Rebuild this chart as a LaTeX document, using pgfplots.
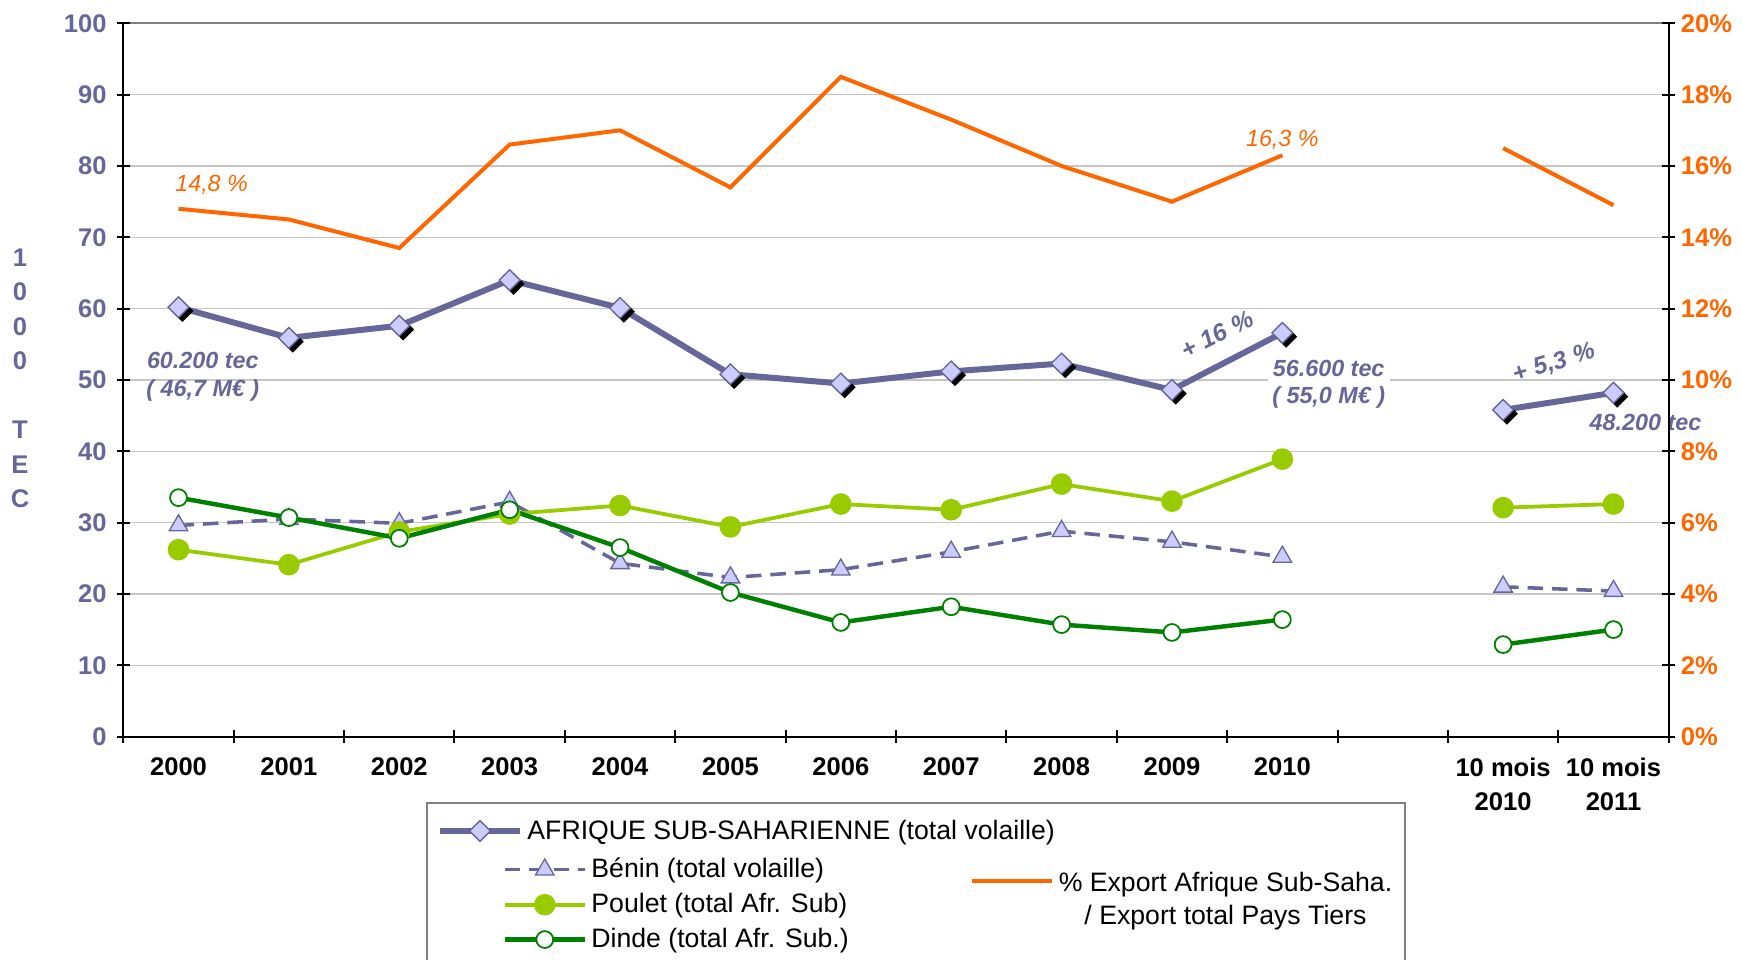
\documentclass[border=0pt]{standalone}
\usepackage{pgfplots}
\usepackage{pgfplotstable}
\pgfplotsset{compat=1.18}
\usepackage{fontspec}
\setmainfont{Liberation Sans}
\definecolor{slate}{HTML}{666699}
\definecolor{lav}{HTML}{CCCCFF}
\definecolor{lime}{HTML}{99CC00}
\definecolor{dgreen}{HTML}{008000}
\definecolor{orng}{HTML}{FF6600}

\pgfplotstableread{
x  afr  ben  pou  din  pct
0  60.2 29.6 26.2 33.5 14.8
1  55.9 30.5 24.1 30.7 14.5
2  57.6 29.9 28.7 27.8 13.7
3  64.0 32.9 31.2 31.8 16.6
4  60.1 24.3 32.4 26.5 17.0
5  50.8 22.3 29.4 20.2 15.4
6  49.5 23.4 32.6 16.0 18.5
7  51.2 25.9 31.8 18.2 17.3
8  52.3 28.8 35.4 15.7 16.0
9  48.6 27.3 33.0 14.6 15.0
10 56.6 25.2 38.9 16.4 16.3
11 nan  nan  nan  nan  nan
12 45.8 21.0 32.1 12.9 16.5
13 48.2 20.4 32.6 15.0 14.9
}\data

\pgfplotsset{
  base/.style={at={(55.5pt,100.5pt)}, anchor=south west, scale only axis,
    width=695.5pt, height=321pt, xmin=-0.5, xmax=13.5, clip=false,
    unbounded coords=jump,
    /pgf/number format/assume math mode=true,
    legend style={draw=none, fill=none, font=\fontsize{12}{15}\selectfont,
      inner sep=0pt, legend cell align=left}},
  myleg/.style={legend image code/.code={\draw[mark repeat=2,mark phase=2,##1]
      plot coordinates {(0pt,0pt)(18pt,0pt)(36pt,0pt)};}}
}

\begin{document}
\begin{tikzpicture}
\useasboundingbox (0,0) rectangle (784pt,432pt);

% legend frame
\draw[gray, line width=0.9pt] (192pt,-5pt) rectangle (632.5pt,70.5pt);

\begin{axis}[base, myleg,
  ymin=0, ymax=100,
  axis x line*=bottom, axis y line*=left,
  axis line style={-, black, line width=0.9pt},
  tick style={black, line width=0.9pt}, major tick length=6pt, tick align=center,
  ytick={0,10,...,90}, extra y ticks={100},
  extra y tick style={grid style={gray, line width=1pt}},
  ymajorgrids, grid style={gray!45, line width=0.6pt},
  yticklabel style={font=\fontsize{11.5}{12}\bfseries\selectfont, text=slate, xshift=-1pt},
  xtick={-0.5,0.5,...,13.5}, xticklabels={},
  extra x ticks={0,1,...,13},
  extra x tick labels={2000,2001,2002,2003,2004,2005,2006,2007,2008,2009,2010,{},{10 mois\\2010},{10 mois\\2011}},
  extra x tick style={major tick length=0pt, grid=none},
  xticklabel style={align=center, font=\fontsize{11.5}{15.5}\bfseries\selectfont, text=black, yshift=-6pt},
  legend style={at={(0.2027,-0.1324)}, anchor=west}
]
\addplot[only marks, forget plot, mark=square*, mark size=3.3pt,
  mark options={xshift=1.7pt, yshift=-1.7pt, rotate=45, fill=black, draw=black}]
  table[x=x, y=afr]{\data};
\addplot[slate, line width=2.7pt, mark=square*, mark size=3.3pt,
  mark options={rotate=45, fill=lav, draw=slate, line width=0.6pt, solid}]
  table[x=x, y=afr]{\data};
\addlegendentry{AFRIQUE SUB-SAHARIENNE (total volaille)}

\node[font=\fontsize{10.5}{12.5}\bfseries\itshape\selectfont, text=slate, align=center]
  at (axis cs:0.22,50.4) {60.200 tec\\( 46,7 M€ )};
\node[font=\fontsize{10.5}{12.5}\bfseries\itshape\selectfont, text=slate, align=center, fill=white, inner sep=2pt]
  at (axis cs:10.42,49.4) {56.600 tec\\( 55,0 M€ )};
\node[font=\fontsize{11}{12.5}\bfseries\itshape\selectfont, text=slate, rotate=27]
  at (axis cs:9.41,56.4) {+\hspace{0.3em}16\hspace{0.3em}\%};
\node[font=\fontsize{11}{12.5}\bfseries\itshape\selectfont, text=slate, rotate=17]
  at (axis cs:12.46,52.3) {+\hspace{0.3em}5,3\hspace{0.3em}\%};
\node[font=\fontsize{10.5}{12.5}\bfseries\itshape\selectfont, text=slate]
  at (axis cs:13.29,44.1) {48.200 tec};
\node[font=\fontsize{10.5}{12.5}\itshape\selectfont, text=orng]
  at (axis cs:0.30,77.3) {14,8 \%};
\node[font=\fontsize{10.5}{12.5}\itshape\selectfont, text=orng]
  at (axis cs:10.0,83.6) {16,3 \%};
\end{axis}

\begin{axis}[base, myleg, hide axis,
  ymin=0, ymax=100,
  legend style={at={(0.2451,-0.1636)}, anchor=north west, row sep=1.5pt}
]
\addplot[slate, line width=1.6pt, dash pattern=on 7pt off 4pt, mark=triangle*, mark size=4.8pt,
  mark options={solid, fill=lav, draw=slate, line width=0.6pt}]
  table[x=x, y=ben]{\data};
\addlegendentry{Bénin (total volaille)}
\addplot[lime, line width=1.7pt, mark=*, mark size=4pt,
  mark options={fill=lime, draw=lime}]
  table[x=x, y=pou]{\data};
\addlegendentry{Poulet (total Afr. Sub)}
\addplot[dgreen, line width=2pt, mark=*, mark size=3.8pt,
  mark options={fill=white, draw=dgreen, line width=0.8pt}]
  table[x=x, y=din]{\data};
\addlegendentry{Dinde (total Afr. Sub.)}
\end{axis}

\begin{axis}[base, myleg,
  ymin=0, ymax=20,
  axis x line=none, axis y line*=right,
  axis line style={-, black, line width=0.9pt},
  tick style={black, line width=0.9pt}, major tick length=6pt, tick align=center,
  ytick={0,2,...,20},
  yticklabel={\pgfmathprintnumber{\tick}\%},
  yticklabel style={font=\fontsize{11.5}{12}\bfseries\selectfont, text=orng, xshift=-1pt},
  legend style={at={(0.5478,-0.1776)}, anchor=north west}
]
\addplot[orng, line width=1.8pt, mark=none] table[x=x, y=pct]{\data};
\addlegendentry{\begin{tabular}[t]{@{}c@{}}\% Export Afrique Sub-Saha.\\/ Export total Pays Tiers\end{tabular}}
\end{axis}

\node[font=\fontsize{11.5}{15.5}\bfseries\selectfont, text=slate, align=center, inner sep=0pt]
  at (9pt,261.75pt) {1\\0\\0\\0\\ \\T\\E\\C};
\end{tikzpicture}
\end{document}
